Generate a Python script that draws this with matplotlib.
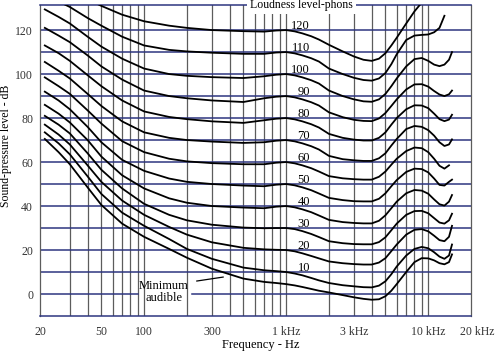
import matplotlib.pyplot as plt
import numpy as np
from matplotlib.transforms import ScaledTranslation

plt.rcParams['font.family'] = ['Liberation Serif', 'DejaVu Serif']

nan = np.nan

freqs = [20, 25, 30, 40, 50, 70, 100, 150, 200, 300, 500, 700, 850,
         1000, 1150, 1300, 1500, 1700, 2000, 2500, 3000, 3500, 4000, 4500, 5000, 5500, 6000,
         7000, 8000, 9000, 10000, 11000, 12000, 13000, 14000, 14700]

# sound pressure level (dB) of each equal-loudness contour
phon_120 = [143, 140, 138, 134, 131, 127, 124, 122, 121, 120, 119.5, 119.3, 119.8,
            120, 119.4, 118.5, 117.2, 115.7, 113.3, 110.3, 108, 106.5, 106, 107, 109.5, 113, 116.5,
            123, 128.5, 132.5, 136, nan, nan, nan, nan, nan]
phon_110 = [136, 133, 130.5, 125.5, 122, 117, 113, 111, 110.3, 109.7, 109.2, 109.2, 109.8,
            110, 109.4, 108.5, 107.2, 105.7, 102.5, 100, 98.3, 97.3, 97, 98, 100.5, 104.5, 109,
            115.5, 117.5, 117.8, 118, 119, 121, 126.5, nan, nan]
phon_100 = [129.4, 126, 123, 117, 112.5, 107, 102.5, 100, 99.2, 98.6, 98.2, 99, 99.7,
            100, 99.4, 98.5, 97.2, 95.7, 92.5, 90, 88.5, 87.6, 87.4, 88.5, 91, 94.5, 98,
            103.5, 106.8, 107.3, 106, 104.3, 103.6, 104.3, 106.5, 110]
phon_90 = [121, 117.5, 114.5, 108.5, 103.5, 97.5, 92.5, 90, 89, 88, 87.3, 89, 89.7,
           90, 89.4, 88.5, 87.2, 85.7, 82.6, 80.4, 79.2, 78.7, 78.6, 79.8, 82.3, 85.5, 88.5,
           93, 95.3, 95.4, 94.3, 92.3, 90.7, 90, 90.8, 92.5]
phon_80 = [113, 109.5, 106, 99.5, 94.5, 88, 83, 80.5, 79.5, 78.5, 77.8, 79, 79.7,
           80, 79.4, 78.5, 77.2, 75.7, 72.8, 71, 70.2, 69.8, 69.8, 71, 73.5, 77, 80,
           84, 85.8, 85.7, 84.5, 82, 79.5, 78.6, 79.3, 81.5]
phon_70 = [105.5, 101.5, 98, 91, 85.5, 78.5, 73.5, 71, 70, 69.3, 68.7, 69, 69.7,
           70, 69.4, 68.5, 67.2, 65.7, 62.8, 61.3, 60.8, 60.5, 60.5, 61.7, 64, 67.5, 70.5,
           75, 76.4, 76, 74.5, 72, 69, 67.3, 68, 70.3]
phon_60 = [98.5, 94.5, 91, 83.5, 77.5, 69.5, 64.5, 61.5, 60.3, 59.5, 59, 59, 59.7,
           60, 59.4, 58.5, 57.2, 55.7, 53.6, 52.6, 52.2, 52, 52, 53.3, 55.7, 58.8, 61.5,
           65, 66.6, 66.3, 64.5, 61.5, 58.3, 57, 58.5, nan]
phon_50 = [92, 88, 84, 76, 69, 61, 56, 52.5, 51, 50, 49.3, 49, 49.7,
           50, 49.4, 48.5, 47.2, 45.7, 43.7, 42.7, 42.2, 42.1, 42.1, 43.3, 45.8, 49, 51.8,
           55.5, 57, 56.8, 55.3, 52.5, 49.6, 49.3, 51, 52]
phon_40 = [86, 82, 78, 70, 62.5, 54, 48, 43.5, 41.5, 40, 39.3, 39, 39.7,
           40, 39.4, 38.5, 37.2, 35.7, 33.7, 32.7, 32.3, 32.1, 32.1, 33.3, 35.8, 39, 42,
           45.8, 47.3, 47, 45.6, 43, 40.8, 40.2, 42, 45]
phon_30 = [81, 77, 73, 64, 56.5, 48, 41, 36, 33.5, 31.5, 30.2, 29.9, 30,
           30, 29.5, 28.6, 27.3, 25.9, 24, 23.1, 22.7, 22.6, 22.6, 23.6, 25.8, 29, 32,
           36, 37.7, 37.8, 36.7, 34.5, 32.5, 32, 33.5, 36.5]
phon_20 = [77, 72.5, 68, 58.5, 51, 42.5, 36, 30.5, 27, 23.5, 21, 20.3, 20.1,
           20, 19.4, 18.5, 17.3, 16.2, 14.8, 14, 13.6, 13.4, 13.4, 14.3, 16.3, 19.5, 22.5,
           27, 29.2, 29.5, 28.5, 26.5, 24.5, 24, 26, 31]
phon_10 = [73.5, 68.5, 63.5, 53.5, 45.5, 37, 31, 25, 20.5, 16, 12, 10.8, 10.4,
           10, 9.3, 8.5, 7.3, 6.2, 5, 4, 3.5, 3.1, 3, 3.8, 5.8, 9, 12.5,
           17.5, 20.5, 21.4, 20.8, 19, 17, 16, 17.5, 22.5]
min_audible = [70.5, 64.5, 59, 48.5, 40.5, 32, 26, 20.5, 16.5, 11.5, 7, 5.5, 5,
               4.5, 3.9, 3.2, 2.3, 1.5, 0.7, -0.5, -1.5, -2.2, -2.6, -2.4, -1, 1.5, 4.5,
               10, 14.5, 16.3, 16.2, 15.3, 14, 13.5, 14.5, 18]

contours = [phon_120, phon_110, phon_100, phon_90, phon_80, phon_70,
            phon_60, phon_50, phon_40, phon_30, phon_20, phon_10, min_audible]
phon_labels = [120, 110, 100, 90, 80, 70, 60, 50, 40, 30, 20, 10]

x_ticks = [18.5, 50, 100, 300, 1000, 3000, 10000, 20000]
x_ticklabels = ['20', '50', '100', '300', '1 kHz', '3 kHz', '10 kHz', '20 kHz']
v_grid = [30, 40, 50, 60, 70, 80, 90, 100, 200, 300, 400, 500, 600, 700, 800, 900,
          1000, 2000, 3000, 4000, 5000, 6000, 7000, 8000, 9000, 10000]
h_grid = [10, 20, 30, 40, 50, 60, 70, 80, 90, 100, 110, 120]

navy = '#2d3580'
grey = '#5c5c5c'

fig = plt.figure(figsize=(4.96, 3.54), dpi=100)
ax = fig.add_axes([40 / 496, 38 / 354, 431 / 496, 311 / 354])
ax.set_xscale('log')
ax.set_xlim(18.5, 20000)
ax.set_ylim(-10, 131.4)

# grid
for f in v_grid:
    ax.axvline(f, color=grey, lw=0.9, zorder=1)
for lv in h_grid:
    ax.axhline(lv, color=navy, lw=1.1, zorder=1)
# 0 dB line is interrupted by the "Minimum audible" label
ax.axhline(0, xmin=0, xmax=0.227, color=navy, lw=1.1, zorder=1)
ax.axhline(0, xmin=0.353, xmax=1, color=navy, lw=1.1, zorder=1)

# contours
for vals in contours:
    ax.plot(freqs, vals, color='black', lw=1.3, zorder=3)

# phon labels
for p in phon_labels:
    ax.text(1470, p + 1.8, str(p), ha='right', va='center', fontsize=9, zorder=4)

# minimum audible label with leader
ax.text(138, 0.9, 'Minimum\naudible', ha='center', va='center', fontsize=9,
        linespacing=1.0, zorder=4)
ax.plot([235, 360], [5.9, 7.7], color='black', lw=0.9, zorder=3)

# title on the top frame
ax.text(0.6067, 1.0, 'Loudness level-phons', transform=ax.transAxes,
        ha='center', va='center', fontsize=8.5, zorder=5, clip_on=False,
        bbox=dict(facecolor='white', edgecolor='none', pad=2.5))

ax.set_xticks(x_ticks)
ax.set_xticklabels(x_ticklabels)
ax.minorticks_off()
ax.set_yticks([0, 20, 40, 60, 80, 100, 120])
ax.tick_params(length=0, labelsize=8.5, colors='#333333', pad=5)
ax.tick_params(axis='x', pad=7)
lab = ax.get_xticklabels()[-1]
lab.set_transform(lab.get_transform() + ScaledTranslation(6 / 100, 0, fig.dpi_scale_trans))

for side in ['left', 'right']:
    ax.spines[side].set_color(grey)
    ax.spines[side].set_linewidth(0.9)
for side in ['top', 'bottom']:
    ax.spines[side].set_color(navy)
    ax.spines[side].set_linewidth(1.1)

ax.set_xlabel('Frequency - Hz', fontsize=9)
ax.xaxis.set_label_coords(0.513, -0.075)
fig.text(0.012, 1 - 146 / 354, 'Sound-pressure level - dB', rotation=90,
         ha='center', va='center', fontsize=8.5)

fig.savefig('out.png', dpi=100)
